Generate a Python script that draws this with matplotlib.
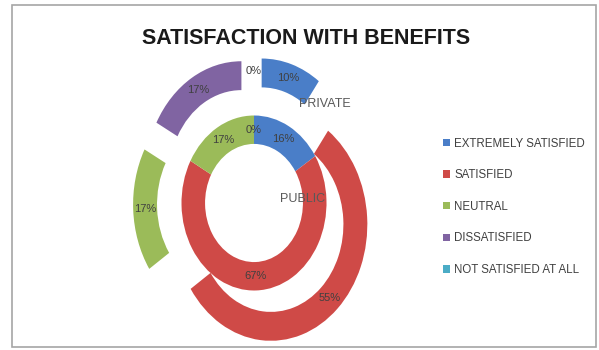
import matplotlib
matplotlib.use("Agg")
import matplotlib.pyplot as plt
from matplotlib.patches import Rectangle

# Response categories and colours
categories = ["EXTREMELY SATISFIED", "SATISFIED", "NEUTRAL", "DISSATISFIED", "NOT SATISFIED AT ALL"]
colors = ["#4A7EC8", "#CF4A47", "#9BBB59", "#8064A2", "#4BACC6"]

# Percentages per sector (outer ring = private, inner ring = public)
private_pct = [10, 55, 17, 17, 0]
public_pct = [16, 67, 17, 0]

title = "SATISFACTION WITH BENEFITS"

plt.rcParams["font.family"] = ["Liberation Sans", "DejaVu Sans"]

W, H = 599, 350
fig = plt.figure(figsize=(W / 100, H / 100), dpi=100)
ax = fig.add_axes([0, 0, 1, 1])

# pixel geometry of the rings (horizontal / vertical scale differ)
cx, cy = 254, 203
sx, sy = 72.5, 87.5

def pct_formatter(values):
    it = iter(values)
    return lambda p: f"{next(it):g}%"

txt_kw = dict(fontsize=8, color="#404040")

inner_w, _, inner_t = ax.pie(
    public_pct, colors=colors[:len(public_pct)], radius=1.0, startangle=90,
    counterclock=False, wedgeprops=dict(width=0.325, linewidth=0),
    autopct=pct_formatter(public_pct), pctdistance=0.8375, textprops=txt_kw,
)
outer_w, _, outer_t = ax.pie(
    private_pct, colors=colors, radius=1.33, startangle=90,
    counterclock=False, explode=[0.338] * len(private_pct),
    wedgeprops=dict(width=0.33, linewidth=0),
    autopct=pct_formatter(private_pct), pctdistance=1.165 / 1.33, textprops=txt_kw,
)

ax.set_aspect("auto")
ax.set_xlim(-cx / sx, (W - cx) / sx)
ax.set_ylim((cy - H) / sy, cy / sy)
ax.axis("off")

# series names
ax.text((325 - cx) / sx, (cy - 104) / sy, "PRIVATE", ha="center", va="center",
        fontsize=9, color="#595959")
ax.text((303 - cx) / sx, (cy - 199) / sy, "PUBLIC", ha="center", va="center",
        fontsize=9, color="#595959")

fig.text((145 + 468) / 2 / W, 1 - 39 / H, title, ha="center", va="center",
         fontsize=15.5, fontweight="bold", color="#1a1a1a")

leg = fig.legend(outer_w, categories, loc="upper left",
                 bbox_to_anchor=(438 / W, 1 - 133 / H), frameon=False,
                 fontsize=8.3, handlelength=0.6, handleheight=0.6,
                 handletextpad=0.4, labelspacing=1.7, borderaxespad=0)
for t in leg.get_texts():
    t.set_color("#404040")

fig.patches.append(Rectangle((12 / W, 1 - 347 / H), (596 - 12) / W, (347 - 5) / H,
                             transform=fig.transFigure, fill=False,
                             edgecolor="#A6A6A6", linewidth=1.2))

fig.savefig("out.png", dpi=100)
